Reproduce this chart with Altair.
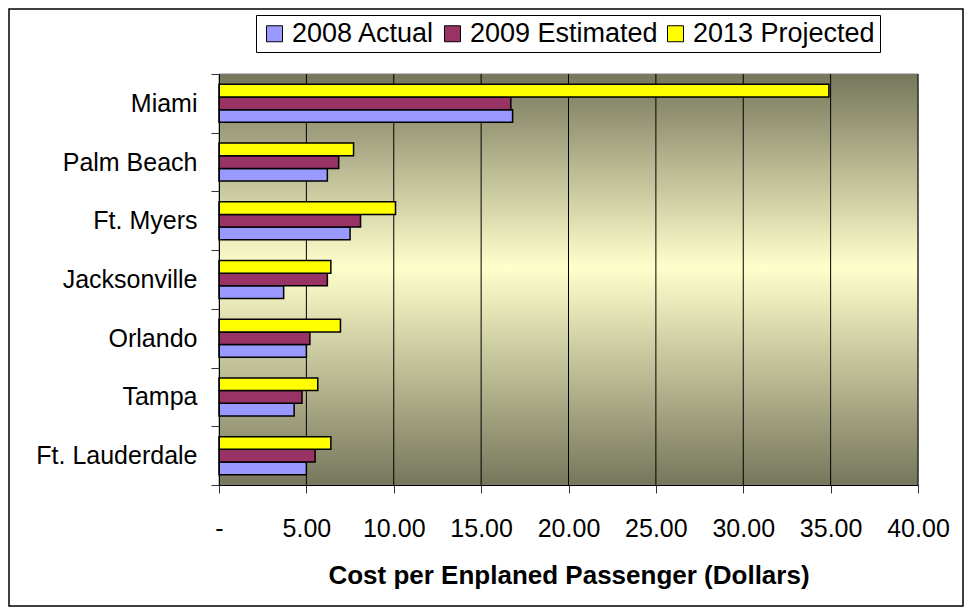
import altair as alt
import pandas as pd

airports = ["Miami", "Palm Beach", "Ft. Myers", "Jacksonville", "Orlando", "Tampa", "Ft. Lauderdale"]
series = ["2008 Actual", "2009 Estimated", "2013 Projected"]
actual_2008 = [16.8, 6.2, 7.5, 3.7, 5.0, 4.3, 5.0]
estimated_2009 = [16.7, 6.85, 8.1, 6.2, 5.2, 4.75, 5.5]
projected_2013 = [34.9, 7.7, 10.1, 6.4, 6.95, 5.65, 6.4]
x_ticks = [0, 5, 10, 15, 20, 25, 30, 35, 40]
colors = ["#9999ff", "#993366", "#ffff00"]

rows = []
for i, a in enumerate(airports):
    for s, vals in zip(series, [actual_2008, estimated_2009, projected_2013]):
        rows.append({"airport": a, "series": s, "value": vals[i]})
df = pd.DataFrame(rows)

W, H = 699, 411
FONT = "Liberation Sans"
xscale = alt.Scale(domain=[0, 40], nice=False, zero=True)
xaxis = alt.Axis(
    values=x_ticks,
    labelExpr="datum.value == 0 ? '-' : format(datum.value, '.2f')",
    title="Cost per Enplaned Passenger (Dollars)",
    grid=False, tickSize=8, labelPadding=23, labelFontSize=25,
    titleFontSize=26, titleFontWeight="bold", titlePadding=21,
    domainColor="black", tickColor="#333333", labelColor="black", titleColor="black",
    labelFont=FONT, titleFont=FONT, zindex=1, labelFlush=False, labelOverlap=False,
)

one = pd.DataFrame({"a": [0]})

bg = alt.Chart(one).mark_rect(
    fill=alt.Gradient(
        gradient="linear", x1=0, x2=0, y1=0, y2=1,
        stops=[
            alt.GradientStop(color="#76765c", offset=0),
            alt.GradientStop(color="#ffffcc", offset=0.47),
            alt.GradientStop(color="#76765c", offset=1),
        ],
    ),
    stroke="#808080", strokeWidth=1,
).encode(x=alt.value(0), x2=alt.value(W), y=alt.value(0), y2=alt.value(H))

grid = alt.Chart(pd.DataFrame({"value": x_ticks[1:]})).mark_rule(color="black", strokeWidth=1).encode(
    x=alt.X("value:Q", scale=xscale, axis=xaxis),
    y=alt.value(0), y2=alt.value(H),
)

bars = alt.Chart(df).mark_bar(stroke="black", strokeWidth=1.5).encode(
    x=alt.X("value:Q", scale=xscale, stack=None, axis=xaxis),
    y=alt.Y(
        "airport:N", sort=airports,
        scale=alt.Scale(paddingInner=0, paddingOuter=0),
        axis=alt.Axis(
            title=None, tickBand="extent", tickSize=8, labelPadding=14, labelFontSize=25,
            domainColor="black", tickColor="#333333", labelColor="black", labelFont=FONT,
            zindex=1,
        ),
    ),
    yOffset=alt.YOffset("series:N", sort=list(reversed(series)),
                        scale=alt.Scale(paddingOuter=0.816, paddingInner=0)),
    color=alt.Color(
        "series:N", scale=alt.Scale(domain=series, range=colors),
        legend=alt.Legend(
            orient="none", legendX=37, legendY=-59, direction="horizontal", title=None,
            symbolType="square", symbolSize=256, symbolStrokeColor="black", symbolStrokeWidth=1,
            labelFont=FONT, labelFontSize=27, labelColor="black", strokeColor="black",
            fillColor="white", padding=5, columnPadding=4, labelOffset=4, labelLimit=0,
        ),
    ),
)

border = alt.Chart(one).mark_rect(fillOpacity=0, stroke="black", strokeWidth=1.5).encode(
    x=alt.value(-210), x2=alt.value(744), y=alt.value(-65), y2=alt.value(532)
)

chart = alt.layer(bg, grid, bars, border).properties(
    width=W, height=H, autosize="none",
    padding={"left": 211, "top": 66, "right": 46, "bottom": 122},
).configure_view(stroke=None)

chart.save("out.html", embed_options={"renderer": "svg", "actions": False})
